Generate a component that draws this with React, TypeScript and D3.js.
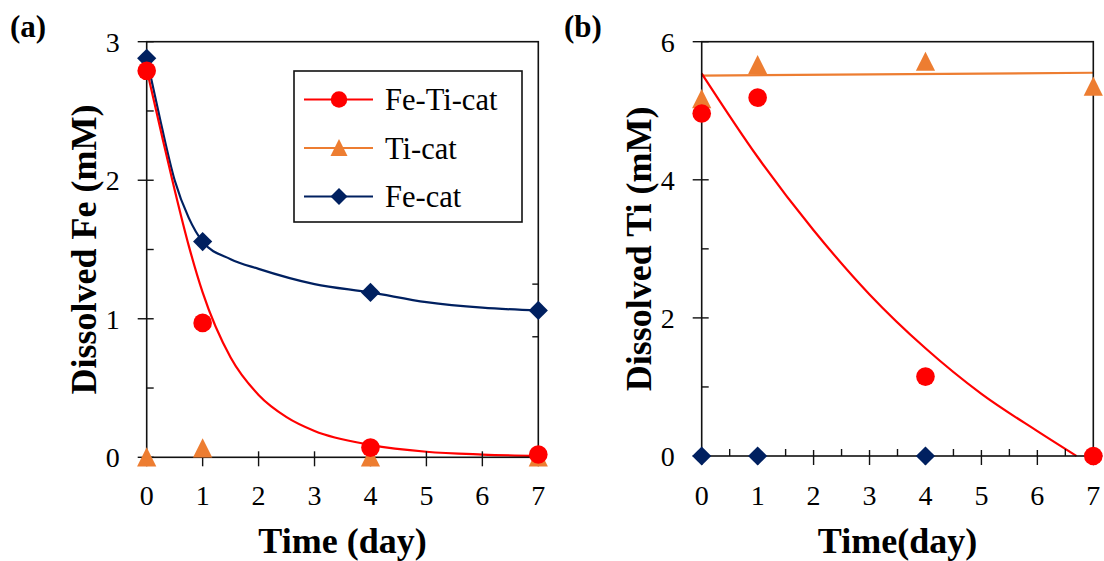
import * as d3 from 'd3'

// sampling days
const days = [0, 1, 4, 7]

// (a) dissolved Fe, mM
const feTiCatFe = [2.79, 0.97, 0.07, 0.02]
const tiCatFe = [0, 0.065, 0, 0]
const feCatFe = [2.88, 1.557, 1.19, 1.06]

// (b) dissolved Ti, mM
const feTiCatTi = [4.96, 5.19, 1.15, 0]
const tiCatTi = [5.17, 5.66, 5.71, 5.35]
const feCatTi = [0, 0, 0, 0]

// trend lines
const fitFeTiFeX = [0, 0.25, 0.5, 0.75, 1, 1.5, 2, 2.5, 3, 4, 5, 6, 7]
const fitFeTiFeY = [2.8, 2.36, 1.93, 1.53, 1.19, 0.72, 0.45, 0.29, 0.19, 0.09, 0.04, 0.02, 0.01]
const fitFeCatFeX = [0, 0.25, 0.5, 0.75, 1, 1.5, 2, 3, 4, 5, 6, 7]
const fitFeCatFeY = [2.88, 2.42, 2.0, 1.73, 1.557, 1.43, 1.36, 1.25, 1.19, 1.12, 1.08, 1.06]
const fitFeTiTiX = [0, 1, 2, 3, 4, 5, 6, 6.7]
const fitFeTiTiY = [5.54, 4.33, 3.27, 2.34, 1.56, 0.9, 0.36, 0]
const fitTiCatTiX = [0, 7]
const fitTiCatTiY = [5.51, 5.55]

const xTicks = [0, 1, 2, 3, 4, 5, 6, 7]
const xMinorB = [0.5, 1.5, 2.5, 3.5, 4.5, 5.5, 6.5]
const yTicksA = [0, 1, 2, 3]
const yMinorA = [0.5, 1.5, 2.5]
const yRightA = [0.87, 1.25]
const yTicksB = [0, 2, 4, 6]
const yMinorB = [1, 3, 5]

const legendNames = ['Fe-Ti-cat', 'Ti-cat', 'Fe-cat']

const RED = '#ff0000'
const ORANGE = '#ed7d31'
const NAVY = '#002060'
const FONT = "'Liberation Serif', 'Tinos', 'Times New Roman', 'DejaVu Serif', serif"

type Shape = 'circle' | 'triangle' | 'diamond'

const Marker = ({ shape, x, y, color, s }: { shape: Shape; x: number; y: number; color: string; s: number }) => {
  if (shape === 'circle') return <circle cx={x} cy={y} r={s * 0.97} fill={color} />
  if (shape === 'triangle')
    return <path d={`M${x},${y - s * 1.05}L${x + s},${y + s * 0.95}L${x - s},${y + s * 0.95}Z`} fill={color} />
  return <path d={`M${x},${y - s}L${x + s},${y}L${x},${y + s}L${x - s},${y}Z`} fill={color} />
}

type Fit = { xs: number[]; ys: number[]; color: string }
type Pts = { values: number[]; color: string; shape: Shape }

const Panel = ({
  left, right, top, bottom, yMax, yTicks, yMinor, xMinor, yRight, fits, points, yTitle, xTitle, tag, tagX,
}: {
  left: number; right: number; top: number; bottom: number; yMax: number
  yTicks: number[]; yMinor: number[]; xMinor: number[]; yRight: number[]
  fits: Fit[]; points: Pts[]; yTitle: string; xTitle: string; tag: string; tagX: number
}) => {
  const x = d3.scaleLinear().domain([0, 7]).range([left, right])
  const y = d3.scaleLinear().domain([0, yMax]).range([bottom, top])
  const line = d3.line<[number, number]>()
    .x(d => x(d[0]))
    .y(d => y(d[1]))
    .curve(d3.curveMonotoneX)

  return (
    <g>
      <text x={tagX} y={37} style={{ fontFamily: FONT }} fontWeight="bold" fontSize={31}>{tag}</text>
      {fits.map((f, i) => (
        <path key={i} d={line(f.xs.map((v, j) => [v, f.ys[j]]) as [number, number][]) ?? ''}
          fill="none" stroke={f.color} strokeWidth={2.2} />
      ))}
      <rect x={left} y={top} width={right - left} height={bottom - top} fill="none" stroke="#111" strokeWidth={1.6} />
      {yTicks.map(t => (
        <g key={t}>
          <line x1={left - 9} x2={left + 7} y1={y(t)} y2={y(t)} stroke="#111" strokeWidth={1.4} />
          <text x={left - 27} y={y(t)} dy="0.35em" textAnchor="end" style={{ fontFamily: FONT }} fontSize={28}>{t}</text>
        </g>
      ))}
      {yMinor.map(t => (
        <line key={t} x1={left} x2={left + 7} y1={y(t)} y2={y(t)} stroke="#111" strokeWidth={1.4} />
      ))}
      {yRight.map(t => (
        <line key={t} x1={right - 6} x2={right} y1={y(t)} y2={y(t)} stroke="#111" strokeWidth={1.4} />
      ))}
      {xTicks.map(t => (
        <g key={t}>
          <line x1={x(t)} x2={x(t)} y1={bottom - 6} y2={bottom + 9} stroke="#111" strokeWidth={1.4} />
          <text x={x(t)} y={505} textAnchor="middle" style={{ fontFamily: FONT }} fontSize={28}>{t}</text>
        </g>
      ))}
      {xMinor.map(t => (
        <line key={t} x1={x(t)} x2={x(t)} y1={bottom - 7} y2={bottom} stroke="#111" strokeWidth={1.4} />
      ))}
      {points.map((p, i) => (
        <g key={i}>
          {p.values.map((v, j) => (
            <Marker key={j} shape={p.shape} x={x(days[j])} y={y(v)} color={p.color} s={9.6} />
          ))}
        </g>
      ))}
      <text transform={`translate(${left - 51},${(top + bottom) / 2}) rotate(-90)`} textAnchor="middle"
        style={{ fontFamily: FONT }} fontWeight="bold" fontSize={36}>{yTitle}</text>
      <text x={(left + right) / 2} y={553} textAnchor="middle" style={{ fontFamily: FONT }} fontWeight="bold" fontSize={36}>
        {xTitle}
      </text>
    </g>
  )
}

const Legend = () => {
  const colors = [RED, ORANGE, NAVY]
  const shapes: Shape[] = ['circle', 'triangle', 'diamond']
  const rows = d3.scalePoint<string>().domain(legendNames).range([99.5, 196.5])
  return (
    <g>
      <rect x={294} y={71} width={228} height={151} fill="#fff" stroke="#111" strokeWidth={1.6} />
      {legendNames.map((n, i) => {
        const cy = rows(n) ?? 0
        return (
          <g key={n}>
            <line x1={304} x2={373} y1={cy} y2={cy} stroke={colors[i]} strokeWidth={2} />
            <Marker shape={shapes[i]} x={339} y={cy} color={colors[i]} s={8.5} />
            <text x={385} y={cy + 10.5} style={{ fontFamily: FONT }} fontSize={30.5}>{n}</text>
          </g>
        )
      })}
    </g>
  )
}

export default function App() {
  return (
    <svg width={1104} height={561} style={{ position: 'absolute', left: 0, top: 0, background: '#fff' }}>
      <Panel
        left={146.7} right={538.3} top={41.7} bottom={457.3} yMax={3}
        yTicks={yTicksA} yMinor={yMinorA} xMinor={[]} yRight={yRightA}
        fits={[
          { xs: fitFeCatFeX, ys: fitFeCatFeY, color: NAVY },
          { xs: fitFeTiFeX, ys: fitFeTiFeY, color: RED },
        ]}
        points={[
          { values: tiCatFe, color: ORANGE, shape: 'triangle' },
          { values: feCatFe, color: NAVY, shape: 'diamond' },
          { values: feTiCatFe, color: RED, shape: 'circle' },
        ]}
        yTitle="Dissolved Fe (mM)" xTitle="Time (day)" tag="(a)" tagX={10}
      />
      <Legend />
      <Panel
        left={701.7} right={1093.3} top={41.7} bottom={456} yMax={6}
        yTicks={yTicksB} yMinor={yMinorB} xMinor={xMinorB} yRight={[]}
        fits={[
          { xs: fitTiCatTiX, ys: fitTiCatTiY, color: ORANGE },
          { xs: fitFeTiTiX, ys: fitFeTiTiY, color: RED },
        ]}
        points={[
          { values: feCatTi, color: NAVY, shape: 'diamond' },
          { values: tiCatTi, color: ORANGE, shape: 'triangle' },
          { values: feTiCatTi, color: RED, shape: 'circle' },
        ]}
        yTitle="Dissolved Ti (mM)" xTitle="Time(day)" tag="(b)" tagX={564}
      />
    </svg>
  )
}
